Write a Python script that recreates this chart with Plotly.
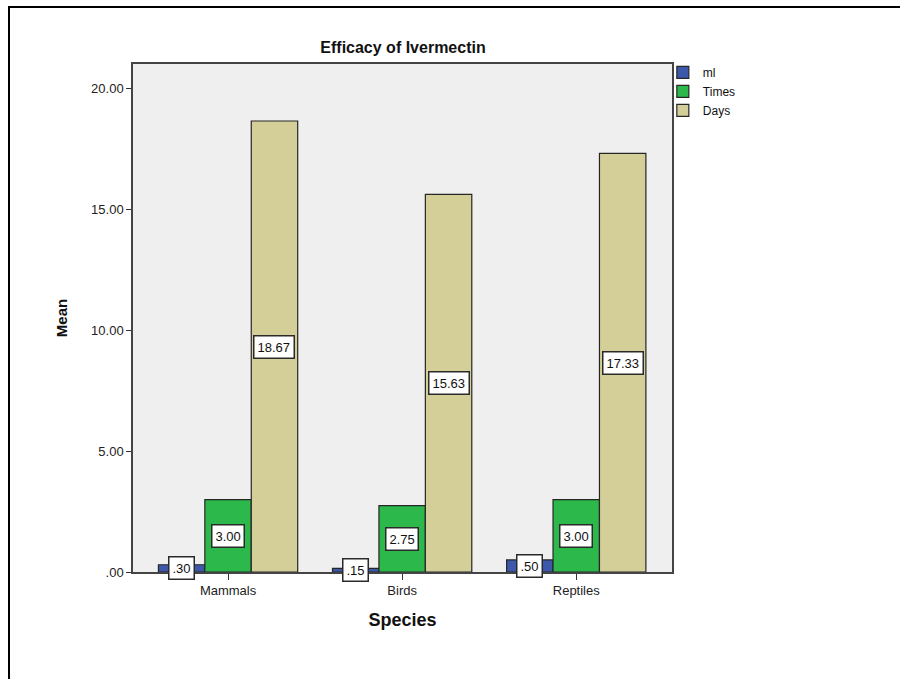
import plotly.graph_objects as go

categories = ["Mammals", "Birds", "Reptiles"]
ml_vals = [0.30, 0.15, 0.50]
times_vals = [3.00, 2.75, 3.00]
days_vals = [18.67, 15.63, 17.33]
ml_labels = [".30", ".15", ".50"]
times_labels = ["3.00", "2.75", "3.00"]
days_labels = ["18.67", "15.63", "17.33"]
y_tickvals = [0, 5, 10, 15, 20]
y_ticktext = [".00", "5.00", "10.00", "15.00", "20.00"]

series = [
    ("ml", ml_vals, ml_labels, "#3D57AB"),
    ("Times", times_vals, times_labels, "#2DB84B"),
    ("Days", days_vals, days_labels, "#D4CF99"),
]

FONT = "Liberation Sans, Arial, sans-serif"
fig = go.Figure()
annotations = []
n = len(series)
bargap = 0.2
bw = (1 - bargap) / n
for j, (name, vals, labels, color) in enumerate(series):
    fig.add_trace(go.Bar(
        x=categories, y=vals, name=name,
        marker=dict(color=color, line=dict(color="#262626", width=1.2)),
    ))
    for i, (v, lab) in enumerate(zip(vals, labels)):
        annotations.append(dict(
            x=i + (j - (n - 1) / 2) * bw, y=v / 2, xref="x", yref="y",
            text=lab, showarrow=False,
            font=dict(family=FONT, size=13, color="#111"),
            bgcolor="white", bordercolor="#2a2a2a", borderwidth=1.5, borderpad=3,
        ))

fig.update_layout(
    width=900, height=679,
    margin=dict(l=133, r=228, t=64, b=107),
    paper_bgcolor="white", plot_bgcolor="#EFEFEF",
    barmode="group", bargap=bargap, bargroupgap=0,
    font=dict(family=FONT, size=13, color="#222"),
    title=dict(text="<b>Efficacy of Ivermectin</b>", x=403 / 900, xanchor="center",
               y=1 - 47 / 679, yanchor="middle", font=dict(size=16, color="#111")),
    xaxis=dict(
        range=[-0.546, 2.55], showline=True, linecolor="#444", linewidth=1.5, mirror=True,
        ticks="outside", ticklen=6, tickcolor="#333", tickfont=dict(size=13),
        title=dict(text="<b>Species</b>", font=dict(size=18, color="#111"), standoff=16),
        showgrid=False,
    ),
    yaxis=dict(
        range=[0, 21.03], showline=True, linecolor="#444", linewidth=1.5, mirror=True,
        tickvals=y_tickvals, ticktext=y_ticktext,
        ticks="outside", ticklen=5, tickcolor="#333", tickfont=dict(size=13),
        title=dict(text="<b>Mean</b>", font=dict(size=15, color="#111"), standoff=20),
        showgrid=False, zeroline=False,
    ),
    legend=dict(x=0.983, y=1.012, xanchor="left", yanchor="top",
                font=dict(size=12, color="#111"), bgcolor="rgba(0,0,0,0)",
                tracegroupgap=0, itemwidth=30),
    annotations=annotations,
    showlegend=True,
)

# outer frame
fig.add_shape(type="rect", xref="paper", yref="paper",
              x0=(9 - 133) / 539, x1=1.5, y0=-0.5, y1=(572 - 7) / 508,
              line=dict(color="black", width=2), fillcolor="rgba(0,0,0,0)", layer="above")

fig.write_html("out.html", config={"displayModeBar": False},
               post_script="document.body.style.margin='0';")
